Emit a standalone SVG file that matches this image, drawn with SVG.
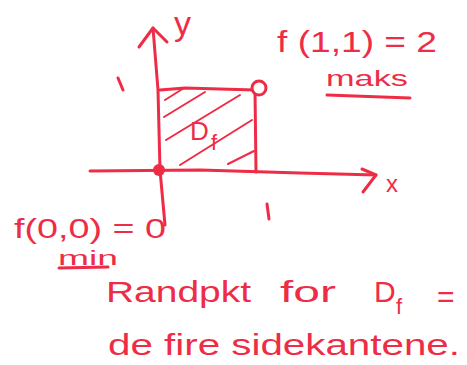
<svg xmlns="http://www.w3.org/2000/svg" width="467" height="365" viewBox="0 0 467 365">
<style>
.s{fill:none;stroke:#ee2c46;stroke-width:3;stroke-linecap:round;stroke-linejoin:round}
.h{fill:none;stroke:#ee2c46;stroke-width:2;stroke-linecap:round}
.t{fill:#ee2c46;font-family:"Liberation Sans",Arial,sans-serif}
</style>
<rect width="467" height="365" fill="#ffffff"/>
<g id="connectors">
<path class="s" d="M90,171 L200,170 L300,173 L376,175"/>
<path class="s" d="M362,169 L376,175 L363,192"/>
<path class="s" d="M153,28 L158,90 L160,170 L165,225"/>
<path class="s" d="M139,47 L153,28 L167,42"/>
</g>
<g id="axis-labels">
<text class="t" x="174" y="35" font-size="34">y</text>
<text class="t" x="386" y="192" font-size="24">x</text>
<path class="s" d="M118,78 L123,90"/>
<path class="s" d="M267,204 L269,219"/>
</g>
<g id="domain">
<path class="s" d="M160,90 L185,88 L255,90 L256,172"/>
<path class="h" d="M165,100 L184,88 M164,117 L205,92 M166,140 L240,95 M180,165 L252,120 M228,164 L254,151"/>
<text class="t" x="190" y="140" font-size="26">D</text>
<text class="t" x="211" y="150" font-size="22">f</text>
<circle cx="259" cy="88" r="7" fill="#fff" stroke="#ee2c46" stroke-width="3"/>
<circle cx="159" cy="170" r="6" fill="#ee2c46"/>
</g>
<g id="max-label">
<text class="t" x="277" y="52" font-size="30" textLength="160" lengthAdjust="spacingAndGlyphs">f (1,1) = 2</text>
<text class="t" x="326" y="86" font-size="22" textLength="82" lengthAdjust="spacingAndGlyphs">maks</text>
<path class="s" d="M327,95 L410,98"/>
</g>
<g id="min-label">
<text class="t" x="14" y="238" font-size="28" textLength="152" lengthAdjust="spacingAndGlyphs">f(0,0) = 0</text>
<text class="t" x="58" y="265" font-size="20" textLength="60" lengthAdjust="spacingAndGlyphs">min</text>
<path class="s" d="M59,268 L108,267"/>
</g>
<g id="conclusion">
<text class="t" x="106" y="302" font-size="30" textLength="145" lengthAdjust="spacingAndGlyphs">Randpkt</text>
<text class="t" x="280" y="302" font-size="30" textLength="56" lengthAdjust="spacingAndGlyphs">for</text>
<text class="t" x="374" y="302" font-size="30">D</text>
<text class="t" x="396" y="314" font-size="22">f</text>
<text class="t" x="437" y="307" font-size="30">=</text>
<text class="t" x="108" y="355" font-size="30" textLength="352" lengthAdjust="spacingAndGlyphs">de fire sidekantene.</text>
</g>
</svg>
